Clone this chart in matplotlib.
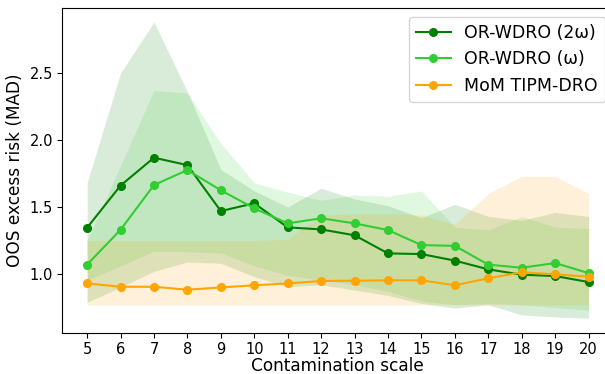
import numpy as np
import matplotlib
matplotlib.use("Agg")
import matplotlib.pyplot as plt

# contamination scales on the x axis
scales = np.arange(5, 21)

# OR-WDRO with radius 2w: mean and spread of the excess risk
wdro_2w_mean = [1.345, 1.66, 1.868, 1.813, 1.47, 1.528, 1.348, 1.333,
                1.289, 1.154, 1.149, 1.10, 1.035, 0.995, 0.985, 0.94]
wdro_2w_low = [0.79, 0.90, 1.02, 1.09, 1.08, 0.98, 0.905, 0.92,
               0.88, 0.84, 0.78, 0.745, 0.77, 0.695, 0.68, 0.67]
wdro_2w_high = [1.68, 2.50, 2.88, 2.36, 1.78, 1.62, 1.50, 1.64,
                1.56, 1.51, 1.42, 1.52, 1.43, 1.40, 1.46, 1.43]

# OR-WDRO with radius w
wdro_w_mean = [1.07, 1.33, 1.664, 1.776, 1.625, 1.49, 1.378, 1.416,
               1.378, 1.328, 1.216, 1.21, 1.07, 1.047, 1.082, 1.007]
wdro_w_low = [0.955, 1.06, 1.17, 1.166, 1.157, 1.06, 0.99, 0.955,
              0.92, 0.87, 0.80, 0.77, 0.78, 0.77, 0.75, 0.73]
wdro_w_high = [1.25, 1.81, 2.37, 2.35, 1.975, 1.68, 1.61, 1.55,
               1.59, 1.58, 1.62, 1.35, 1.33, 1.43, 1.35, 1.34]

# MoM TIPM-DRO
mom_mean = [0.93, 0.905, 0.905, 0.883, 0.90, 0.916, 0.93, 0.948,
            0.95, 0.953, 0.953, 0.916, 0.968, 1.013, 0.998, 0.98]
mom_low = [0.77, 0.77, 0.77, 0.77, 0.77, 0.77, 0.77, 0.77,
           0.77, 0.77, 0.77, 0.77, 0.77, 0.77, 0.77, 0.77]
mom_high = [1.25, 1.25, 1.25, 1.25, 1.25, 1.25, 1.26, 1.44,
            1.45, 1.45, 1.44, 1.37, 1.60, 1.73, 1.73, 1.60]

series = [
    ("OR-WDRO (2ω)", "green", wdro_2w_mean, wdro_2w_low, wdro_2w_high),
    ("OR-WDRO (ω)", "limegreen", wdro_w_mean, wdro_w_low, wdro_w_high),
    ("MoM TIPM-DRO", "orange", mom_mean, mom_low, mom_high),
]

fig, ax = plt.subplots(figsize=(6.05, 3.74), dpi=100)
for label, color, mean, low, high in series:
    ax.plot(scales, mean, marker="o", markersize=5.5, linewidth=1.5,
            color=color, label=label)
    ax.fill_between(scales, low, high, color=color, alpha=0.15, linewidth=0)

ax.set_xticks(scales)
ax.set_yticks([1.0, 1.5, 2.0, 2.5])
ax.set_xlim(4.25, 20.75)
ax.set_ylim(0.56, 2.985)
ax.tick_params(labelsize=10.5, pad=3)
ax.set_xlabel("Contamination scale", fontsize=12.2, labelpad=0)
ax.set_ylabel("OOS excess risk (MAD)", fontsize=12.2)
ax.legend(loc="upper right", fontsize=12.5)

fig.subplots_adjust(left=62 / 605, right=613.7 / 605, top=1 - 8 / 374, bottom=1 - 333 / 374)
fig.savefig("out.png", dpi=100)
